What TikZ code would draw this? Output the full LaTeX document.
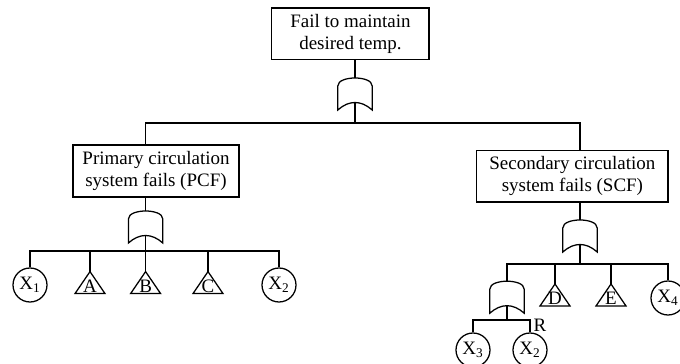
\documentclass[tikz,border=0pt]{standalone}
\usepackage{fontspec}
\setmainfont{Liberation Serif}
\usetikzlibrary{calc}

\begin{document}
\begin{tikzpicture}[
    wire/.style={line width=0.9pt},
    evbox/.style={draw, line width=0.9pt, align=center, minimum height=1.28cm,
                  inner sep=2pt, font=\fontsize{13.5}{15.6}\selectfont},
    basic/.style={draw, circle, line width=0.9pt, minimum size=0.85cm, inner sep=0pt,
                  font=\fontsize{13.5}{15.6}\selectfont},
    lbl/.style={font=\fontsize{13.5}{15.6}\selectfont, inner sep=0pt},
    orgate/.pic={
        \draw[wire] (-0.43,0) -- (-0.43,0.6)
            .. controls (-0.43,0.74) and (-0.2,0.8) .. (0,0.8)
            .. controls (0.2,0.8) and (0.43,0.74) .. (0.43,0.6)
            -- (0.43,0) .. controls (0.15,0.25) and (-0.15,0.25) .. (-0.43,0) -- cycle;
        \coordinate (-in) at (0,0.8);
        \coordinate (-out) at (0,0.19);
    },
    trig/.pic={
        \draw[wire] (-0.375,0) -- (0.375,0) -- (0,0.55) -- cycle;
        \node[lbl, anchor=base] (-lbl) at (0,0.03) {#1};
        \coordinate (-top) at (0,0.55);
    },
]
\useasboundingbox (0,0) rectangle (17,9.1);

% Top event
\node[evbox, minimum width=3.93cm] (top) at (8.76, 8.26) {Fail to maintain\\desired temp.};
\pic (g0) at (8.875, 6.35) {orgate};
\coordinate (j0) at (8.875, 6.025);

% ---- LEFT: primary circulation ----
\node[evbox, minimum width=4.15cm, minimum height=1.3cm] (pcf) at (3.9, 4.825)
    {Primary circulation\\system fails (PCF)};
\pic (g1) at (3.64, 3.025) {orgate};
\coordinate (j1) at (3.64, 2.825);

\node[basic] (x1) at (0.75, 1.975) {X\textsubscript{1}};
\pic (tA) at (2.25, 1.76) {trig=A};
\pic (tB) at (3.64, 1.76) {trig=B};
\pic (tC) at (5.2, 1.76) {trig=C};
\node[basic] (x2) at (6.975, 1.975) {X\textsubscript{2}};

% ---- RIGHT: secondary circulation ----
\node[evbox, minimum width=4.78cm] (scf) at (14.31, 4.69)
    {Secondary circulation\\system fails (SCF)};
\pic (g2) at (14.5, 2.8) {orgate};
\coordinate (j2) at (14.5, 2.5);

\pic (g3) at (12.675, 1.27) {orgate};
\coordinate (j3) at (12.675, 1.1);
\pic (tD) at (13.875, 1.45) {trig=D};
\pic (tE) at (15.275, 1.45) {trig=E};
\node[basic] (x4) at (16.7, 1.65) {X\textsubscript{4}};

\node[basic] (x3) at (11.825, 0.35) {X\textsubscript{3}};
\node[basic] (x2b) at (13.25, 0.35) {X\textsubscript{2}};
\node[lbl] (rlab) at (13.5, 0.975) {R};

% ---- Connectors ----
\draw[wire] (top.south -| g0-in) -- (g0-in);
\draw[wire] (g0-out) -- (j0);
\draw[wire] (pcf.north -| g1-in) |- (j0) -| (scf.north -| g2-in);

\draw[wire] (pcf.south -| g1-in) -- (g1-in);
\draw[wire] (g1-out) -- (j1);
\draw[wire] (x1.north) |- (j1) -| (x2.north);
\draw[wire] (tA-top) -- (tA-top |- j1);
\draw[wire] (tB-top) -- (tB-top |- j1);
\draw[wire] (tC-top) -- (tC-top |- j1);

\draw[wire] (scf.south -| g2-in) -- (g2-in);
\draw[wire] (g2-out) -- (j2);
\draw[wire] (g3-in) |- (j2) -| (x4.north);
\draw[wire] (tD-top) -- (tD-top |- j2);
\draw[wire] (tE-top) -- (tE-top |- j2);

\draw[wire] (g3-out) -- (j3);
\draw[wire] (x3.north) |- (j3) -| (x2b.north);
\end{tikzpicture}
\end{document}
